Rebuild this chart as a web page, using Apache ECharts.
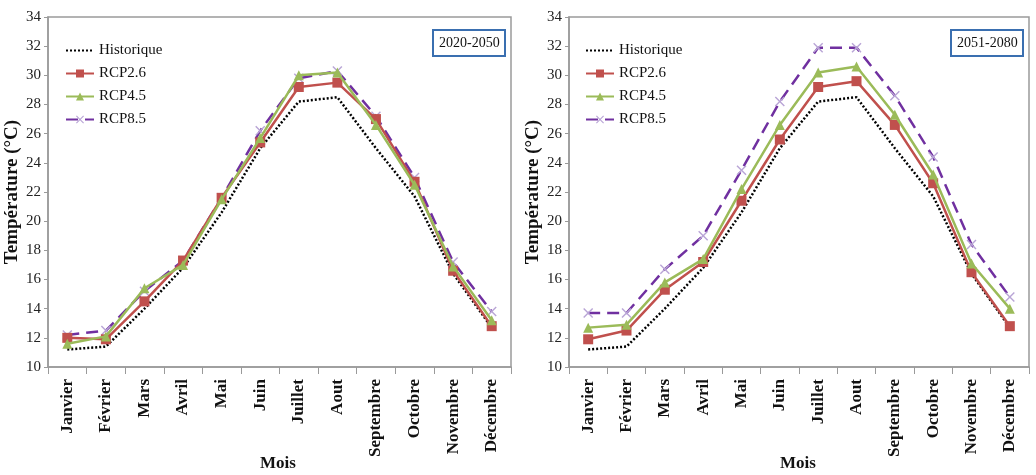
<!DOCTYPE html>
<html><head><meta charset="utf-8">
<script src="https://cdn.jsdelivr.net/npm/echarts@6/dist/echarts.min.js"></script>
<style>html,body{margin:0;padding:0;background:#fff}#c{width:1036px;height:475px}</style>
</head><body><div id="c"></div>
<script>
const months = ['Janvier','Février','Mars','Avril','Mai','Juin','Juillet','Aout','Septembre','Octobre','Novembre','Décembre'];
const yTicks = [10,12,14,16,18,20,22,24,26,28,30,32,34];
const seriesNames = ['Historique','RCP2.6','RCP4.5','RCP8.5'];
const periods = ['2020-2050','2051-2080'];
const xTitle = 'Mois';
const yTitle = 'Température (°C)';

const historique = [11.2,11.4,14.0,16.8,20.6,25.0,28.2,28.5,25.0,21.7,16.4,12.7];
// 2020-2050
const rcp26_a = [12.0,11.9,14.5,17.3,21.6,25.4,29.2,29.5,27.0,22.7,16.6,12.8];
const rcp45_a = [11.6,12.1,15.4,17.0,21.5,25.7,30.0,30.2,26.6,22.5,16.9,13.2];
const rcp85_a = [12.2,12.5,15.2,17.3,21.6,26.2,29.8,30.3,27.2,23.0,17.2,13.8];
// 2051-2080
const rcp26_b = [11.9,12.5,15.3,17.2,21.4,25.6,29.2,29.6,26.6,22.6,16.5,12.8];
const rcp45_b = [12.7,12.9,15.8,17.4,22.2,26.6,30.2,30.6,27.3,23.2,17.1,14.0];
const rcp85_b = [13.7,13.7,16.7,19.0,23.5,28.2,31.9,31.9,28.6,24.4,18.4,14.8];

const serif = '"Liberation Serif","DejaVu Serif",serif';
const xSym = 'path://M0,1L1,0L5,4L9,0L10,1L6,5L10,9L9,10L5,6L1,10L0,9L4,5Z';
const grids = [
  {left:48, right:525, top:17, bottom:108, outerBoundsMode:'none', containLabel:false, show:true, borderColor:'#9a9a9a', borderWidth:1.5},
  {left:569, right:7, top:17, bottom:108, outerBoundsMode:'none', containLabel:false, show:true, borderColor:'#9a9a9a', borderWidth:1.5}
];
function xAxis(i){return {type:'category', gridIndex:i, data:months, boundaryGap:true,
  axisLine:{lineStyle:{color:'#9a9a9a', width:1.5}},
  axisTick:{show:true, length:7, lineStyle:{color:'#9a9a9a'}},
  axisLabel:{rotate:90, interval:0, margin:12, fontFamily:serif, fontWeight:'bold', fontSize:17, color:'#111'}};}
function yAxis(i){return {type:'value', gridIndex:i, min:yTicks[0], max:yTicks[yTicks.length-1], interval:2,
  name:yTitle, nameLocation:'middle', nameGap:26,
  nameTextStyle:{fontFamily:serif, fontWeight:'bold', fontSize:19, color:'#111'},
  splitLine:{show:false},
  axisLine:{show:true, lineStyle:{color:'#9a9a9a', width:1.5}},
  axisTick:{show:true, length:4, lineStyle:{color:'#9a9a9a'}},
  axisLabel:{fontFamily:serif, fontSize:15, color:'#222', margin:7}};}
function mk(i, h, r26, r45, r85){
  return [
    {name:seriesNames[0], type:'line', xAxisIndex:i, yAxisIndex:i, data:h, showSymbol:false, symbol:'circle', symbolSize:0,
      lineStyle:{color:'#000', width:2.5, type:[2,2]}, itemStyle:{color:'rgba(0,0,0,0)'}, z:1},
    {name:seriesNames[1], type:'line', xAxisIndex:i, yAxisIndex:i, data:r26, symbol:'rect', symbolSize:10,
      lineStyle:{color:'#c0504d', width:2.5}, itemStyle:{color:'#c0504d'}, z:3},
    {name:seriesNames[2], type:'line', xAxisIndex:i, yAxisIndex:i, data:r45, symbol:'triangle', symbolSize:10,
      lineStyle:{color:'#9bbb59', width:2.5}, itemStyle:{color:'#9bbb59'}, z:4},
    {name:seriesNames[3], type:'line', xAxisIndex:i, yAxisIndex:i, data:r85, symbol:xSym, symbolSize:10,
      lineStyle:{color:'#7030a0', width:2.5, type:[12,7]}, itemStyle:{color:'#b9a5d6'}, z:2}
  ];
}
function legend(i, left){return {left:left, top:38, orient:'vertical', itemGap:8, itemWidth:28, itemHeight:10,
  data:seriesNames.map(n=>({name:n})),
  textStyle:{fontFamily:serif, fontSize:15, color:'#111'}};}
function xName(cx){return {type:'text', left:cx-18, top:455,
  style:{text:xTitle, font:'bold 17px '+serif, fill:'#111'}};}
const chart = echarts.init(document.getElementById('c'));
chart.setOption({
  animation:false,
  title:[
    {text:periods[0], left:433, top:30, padding:[6,6], borderColor:'#3a6fb0', borderWidth:2,
      textStyle:{fontFamily:serif, fontSize:14, fontWeight:'normal', color:'#111'}},
    {text:periods[1], left:951, top:30, padding:[6,6], borderColor:'#3a6fb0', borderWidth:2,
      textStyle:{fontFamily:serif, fontSize:14, fontWeight:'normal', color:'#111'}}
  ],
  legend:[legend(0,60), legend(1,580)],
  grid:grids,
  xAxis:[xAxis(0), xAxis(1)],
  yAxis:[yAxis(0), yAxis(1)],
  graphic:[xName(278), xName(798)],
  series:[...mk(0, historique, rcp26_a, rcp45_a, rcp85_a), ...mk(1, historique, rcp26_b, rcp45_b, rcp85_b)]
});
</script></body></html>
